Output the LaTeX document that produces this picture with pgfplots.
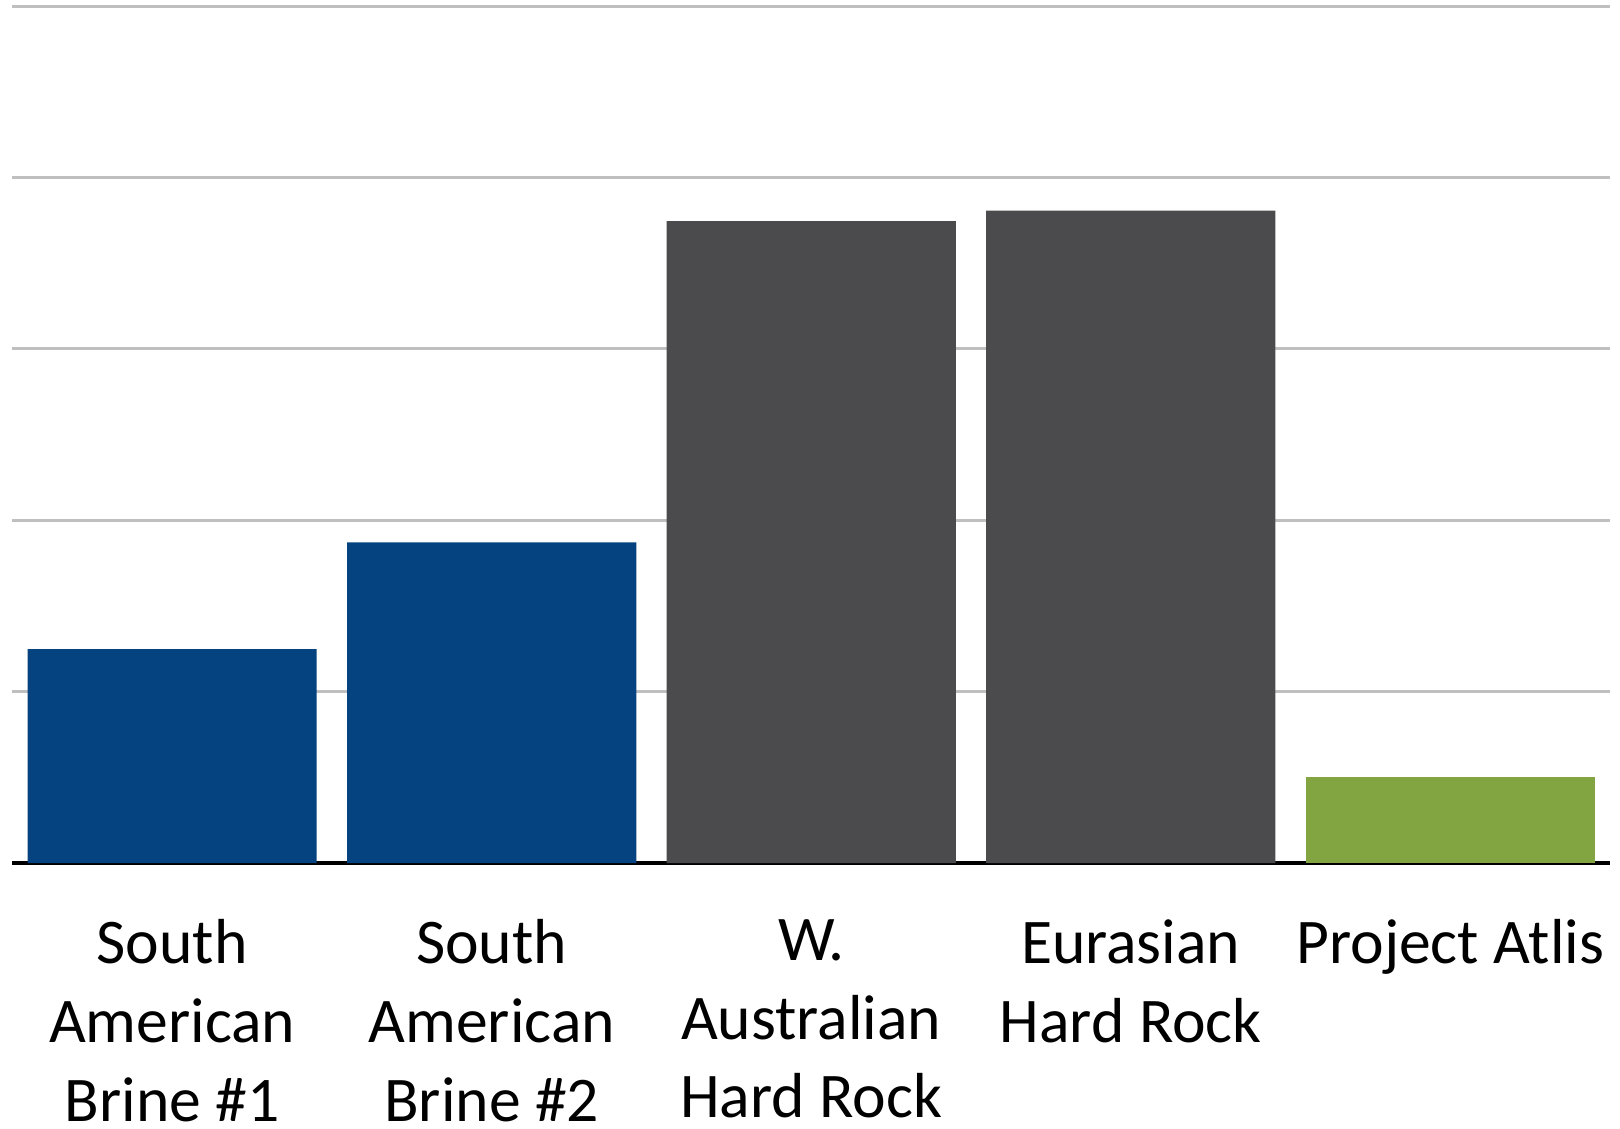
\documentclass[border=0pt]{standalone}
\usepackage{fontspec}
\setmainfont{Carlito}
\usepackage{pgfplots}
\pgfplotsset{compat=1.18}
\definecolor{barblue}{RGB}{4,67,128}
\definecolor{bargray}{RGB}{75,75,77}
\definecolor{bargreen}{RGB}{130,164,65}
\definecolor{gridgray}{RGB}{191,191,191}
\begin{document}
\begin{tikzpicture}
\useasboundingbox (-0.124cm,-2.65cm) rectangle (16.076cm,8.63cm);
\begin{axis}[
 at={(0,0)}, anchor=south west, scale only axis,
 width=15.976cm, height=8.57cm,
 xmin=-0.5, xmax=4.5, ymin=0, ymax=5,
 axis line style={draw=none},
 ybar, bar width=0.905,
 xtick={0,1,2,3,4},
 xticklabels={{South\\American\\Brine \#1},{South\\American\\Brine \#2},{W.\\Australian\\Hard Rock},{Eurasian\\Hard Rock},{Project Atlis}},
 ytick={1,2,3,4,5}, yticklabels={},
 ymajorgrids, grid style={gridgray, line width=0.85pt},
 extra y ticks={0}, extra y tick labels={},
 extra y tick style={grid style={black, line width=0.95pt}},
 major tick length=0,
 xticklabel style={align=center, font=\fontsize{18.1}{22.4}\selectfont, anchor=north, inner sep=0pt, yshift=-0.56cm},
 clip=false,
]
\addplot[fill=barblue, draw=none, bar shift=0pt] coordinates {(0,1.248) (1,1.87)};
\addplot[fill=bargray, draw=none, bar shift=0pt] coordinates {(2,3.745) (3,3.806)};
\addplot[fill=bargreen, draw=none, bar shift=0pt] coordinates {(4,0.50)};
\end{axis}
\end{tikzpicture}
\end{document}
